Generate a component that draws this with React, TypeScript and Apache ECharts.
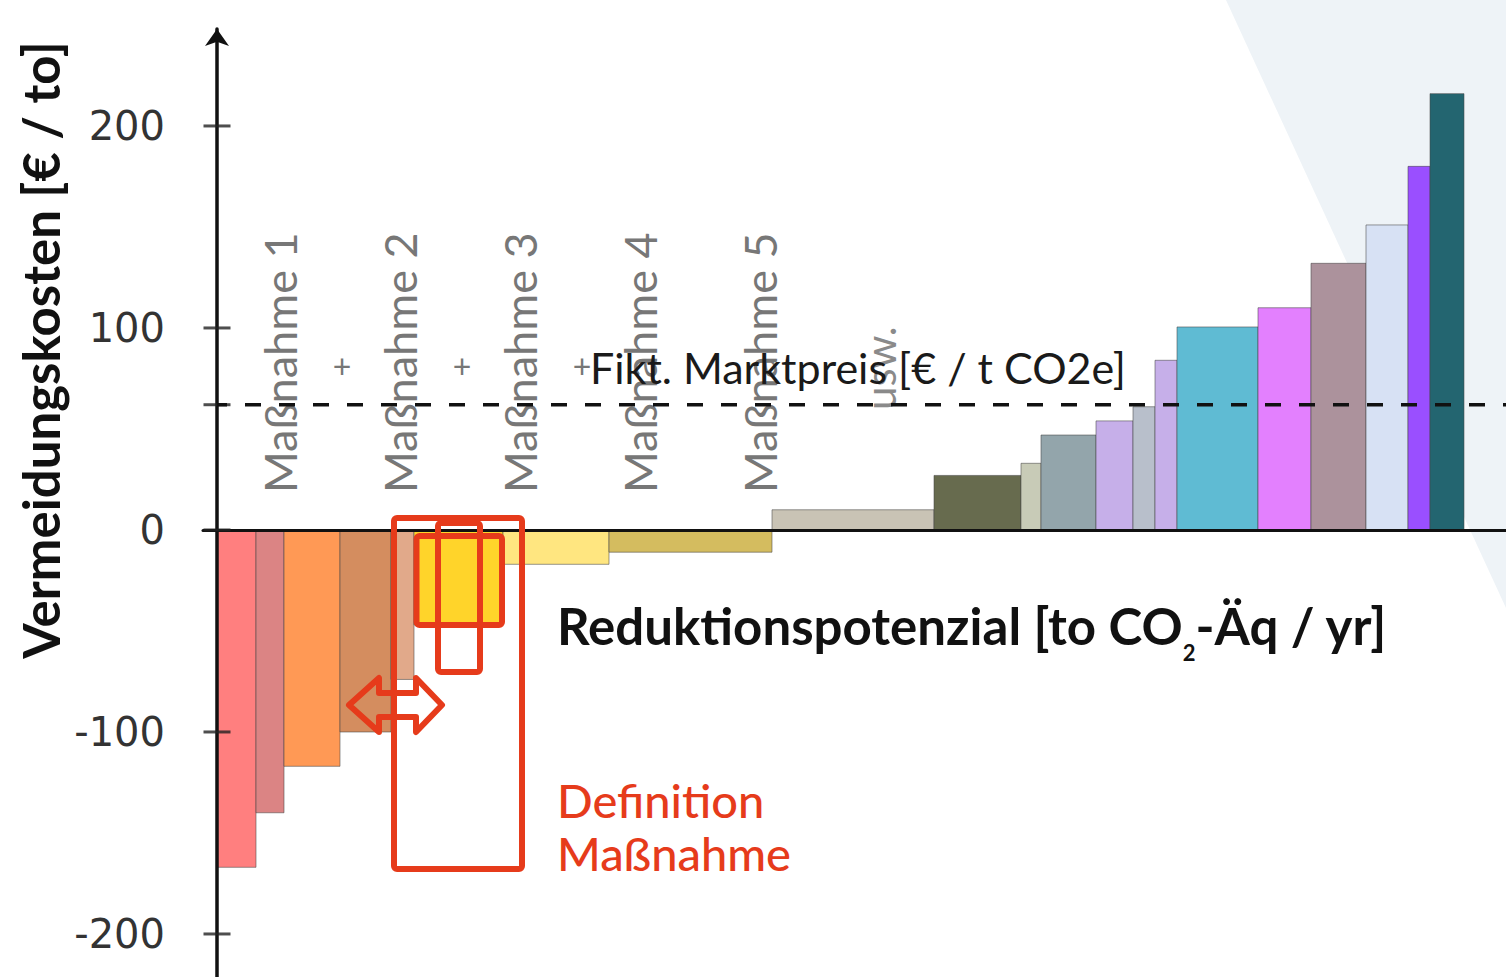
import React, { useEffect, useRef } from 'react';
import * as echarts from 'echarts';

// Reduction potential (bar widths) and abatement cost (bar heights) per measure
const measureWidths = [3.9, 2.8, 5.6, 5.1, 2.3, 8.9, 10.6, 16.3, 16.2, 8.7, 2.0, 5.5, 3.7, 2.2, 2.2, 8.1, 5.3, 5.5, 4.2, 2.2, 3.4];
const abatementCosts = [-167, -140, -117, -100, -74, -47, -17, -11, 10, 27, 33, 47, 54, 61, 84, 100.5, 110, 132, 151, 180, 216];
const barColors = [
  '#FF7F7F', '#DB8484', '#FF9955', '#D48D5F', '#E1A98A', '#FFD42A', '#FFE680', '#D4BC5F',
  '#C9C3B5', '#676B4E', '#C8CBB7', '#93A5AB', '#C6AFE9', '#B8BFCB', '#C6AFE9', '#5FBBD3',
  '#E380FE', '#AC929C', '#D7E1F4', '#9A4FFF', '#236570',
];
const marketPrice = 62;
const yTickLabels = [-200, -100, 0, 100, 200];
const yTickMarks = [-200, -100, 0, 62, 100, 200];
const measureLabels = ['Maßnahme 1', 'Maßnahme 2', 'Maßnahme 3', 'Maßnahme 4', 'Maßnahme 5'];
const xMin = -1.4;
const xMax = 128.9;
const yMin = -221.3;
const yMax = 248;

const RED = '#E63B1B';
const FONT = 'Lato, "Open Sans", sans-serif';

export default function App() {
  const ref = useRef<HTMLDivElement>(null);
  useEffect(() => {
    const chart = echarts.init(ref.current as HTMLDivElement, null, { renderer: 'svg' });
    let acc = 0;
    const barData = measureWidths.map((w, i) => {
      const d = [acc, acc + w, abatementCosts[i], i];
      acc += w;
      return d;
    });

    const labelCenters = [280, 400, 520, 640, 760];
    const plusCenters = [342, 462, 582];

    const graphics: any[] = [
      {
        type: 'polygon',
        z: -10,
        silent: true,
        shape: { points: [[1226, 0], [1506, 0], [1506, 608]] },
        style: { fill: '#EEF3F7' },
      },
      {
        type: 'text',
        x: 40,
        y: 350,
        rotation: Math.PI / 2,
        style: {
          text: 'Vermeidungskosten [€ / to]',
          font: `bold 51px ${FONT}`,
          fill: '#111',
          textAlign: 'center',
          textVerticalAlign: 'middle',
        },
      },
      ...measureLabels.map((t, i) => ({
        type: 'text',
        x: labelCenters[i],
        y: 493,
        rotation: Math.PI / 2,
        z: 1,
        style: {
          text: t,
          font: `45px ${FONT}`,
          fill: '#777',
          textAlign: 'left',
          textVerticalAlign: 'middle',
        },
      })),
      ...plusCenters.map((cx) => ({
        type: 'text',
        x: cx,
        y: 365,
        z: 1,
        style: {
          text: '+',
          font: `32px ${FONT}`,
          fill: '#777',
          textAlign: 'center',
          textVerticalAlign: 'middle',
        },
      })),
      {
        type: 'text',
        x: 880,
        y: 410,
        rotation: Math.PI / 2,
        z: 1,
        style: {
          text: 'usw.',
          font: `42px ${FONT}`,
          fill: '#8a8a8a',
          textAlign: 'left',
          textVerticalAlign: 'middle',
        },
      },
      {
        type: 'text',
        x: 590,
        y: 367,
        z: 30,
        style: {
          text: 'Fikt. Marktpreis [€ / t CO2e]',
          font: `43px ${FONT}`,
          fill: '#1a1a1a',
          textAlign: 'left',
          textVerticalAlign: 'middle',
        },
      },
      {
        type: 'text',
        x: 557,
        y: 600,
        z: 30,
        style: {
          text: '{a|Reduktionspotenzial [to CO}{s|2}{a|-Äq / yr]}',
          textAlign: 'left',
          textVerticalAlign: 'top',
          rich: {
            a: { fontSize: 51, fontWeight: 'bold', fontFamily: FONT, fill: '#111', lineHeight: 56, verticalAlign: 'top' },
            s: { fontSize: 22, fontWeight: 'bold', fontFamily: FONT, fill: '#111', lineHeight: 22, padding: [41, 0, 0, 0], verticalAlign: 'top' },
          },
        },
      },
      {
        type: 'text',
        x: 557,
        y: 800,
        z: 30,
        style: {
          text: 'Definition',
          font: `500 47px ${FONT}`,
          fill: RED,
          textAlign: 'left',
          textVerticalAlign: 'middle',
        },
      },
      {
        type: 'text',
        x: 557,
        y: 853,
        z: 30,
        style: {
          text: 'Maßnahme',
          font: `500 47px ${FONT}`,
          fill: RED,
          textAlign: 'left',
          textVerticalAlign: 'middle',
        },
      },
      // red annotation boxes
      {
        type: 'rect', z: 40,
        shape: { x: 394, y: 518, width: 128, height: 351, r: 3 },
        style: { fill: 'none', stroke: RED, lineWidth: 6 },
      },
      {
        type: 'rect', z: 40,
        shape: { x: 416.5, y: 536, width: 85.5, height: 89, r: 3 },
        style: { fill: 'none', stroke: RED, lineWidth: 6 },
      },
      {
        type: 'rect', z: 40,
        shape: { x: 438, y: 523, width: 42, height: 149, r: 3 },
        style: { fill: 'none', stroke: RED, lineWidth: 6 },
      },
      {
        type: 'polygon', z: 40,
        shape: {
          points: [[349, 705], [379, 678], [379, 693], [416, 693], [416, 678], [442, 705], [416, 732], [416, 717], [379, 717], [379, 732]],
        },
        style: { fill: 'none', stroke: RED, lineWidth: 6, lineJoin: 'round' },
      },
    ];

    const option: any = {
      animation: false,
      backgroundColor: '#ffffff',
      grid: { left: 203, right: 0, top: 29, bottom: 0 },
      xAxis: {
        type: 'value',
        min: xMin,
        max: xMax,
        z: 10,
        axisLine: { show: true, onZero: true, lineStyle: { color: '#111', width: 3 } },
        axisTick: { show: false },
        axisLabel: { show: false },
        splitLine: { show: false },
      },
      yAxis: {
        type: 'value',
        min: yMin,
        max: yMax,
        position: 'left',
        z: 10,
        axisLine: {
          show: true,
          onZero: true,
          symbol: ['none', 'arrow'],
          symbolSize: [18, 17],
          lineStyle: { color: '#111', width: 3.5 },
        },
        axisTick: { show: false },
        axisLabel: {
          show: true,
          customValues: yTickLabels,
          margin: 38,
          fontSize: 40,
          fontFamily: '"DejaVu Sans", Verdana, sans-serif',
          color: '#333',
        },
        splitLine: { show: false },
      },
      series: [
        {
          type: 'custom',
          z: 2,
          encode: { x: [0, 1], y: 2 },
          data: barData,
          renderItem: (params: any, api: any) => {
            const x0 = api.value(0);
            const x1 = api.value(1);
            const v = api.value(2);
            const idx = api.value(3);
            const p0 = api.coord([x0, 0]);
            const p1 = api.coord([x1, v]);
            return {
              type: 'rect',
              shape: {
                x: p0[0],
                y: Math.min(p0[1], p1[1]),
                width: p1[0] - p0[0],
                height: Math.abs(p1[1] - p0[1]),
              },
              style: { fill: barColors[idx], stroke: 'rgba(70,70,70,0.55)', lineWidth: 1 },
            };
          },
        },
        {
          type: 'line',
          z: 20,
          symbol: 'none',
          silent: true,
          data: [[0, marketPrice], [xMax, marketPrice]],
          lineStyle: { color: '#111', width: 3.5, type: [16, 18], dashOffset: 6 },
        },
        {
          // axis tick marks crossing the y axis
          type: 'scatter',
          z: 12,
          silent: true,
          symbol: 'rect',
          symbolSize: [27, 3],
          itemStyle: { color: '#222' },
          data: yTickMarks.map((v) => [0, v]),
        },
      ],
      graphic: graphics,
    };
    chart.setOption(option);
    return () => chart.dispose();
  }, []);
  return (
    <div
      ref={ref}
      style={{ position: 'absolute', left: 0, top: 0, width: 1506, height: 977, background: '#fff' }}
    />
  );
}
